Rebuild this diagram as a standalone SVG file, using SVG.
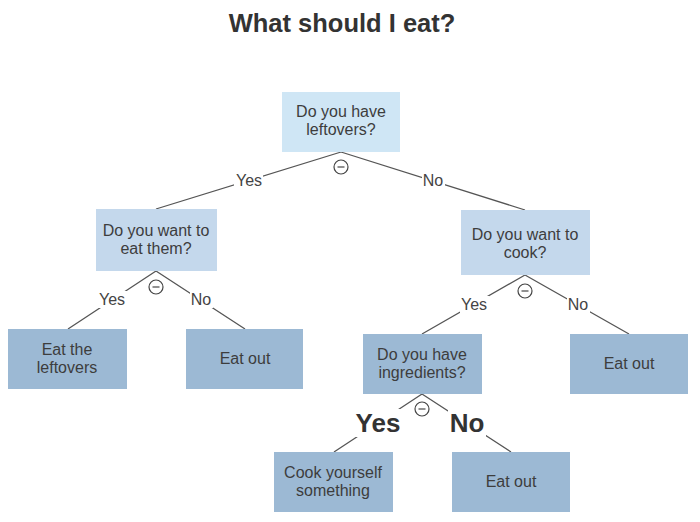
<svg xmlns="http://www.w3.org/2000/svg" width="700" height="522" viewBox="0 0 700 522">
<style>
text{font-family:"Liberation Sans",Arial,sans-serif;fill:#333}
.t{font-size:16px;text-anchor:middle;fill:#3d3d3d}
.l{font-size:16px;text-anchor:middle;fill:#444}
.b{font-size:26px;font-weight:bold;text-anchor:middle;fill:#333}
.e{stroke:#555;stroke-width:1.3;fill:none}
.c{stroke:#444;stroke-width:1.2;fill:#fff}
.bg{fill:#fff}
.n0{fill:#cfe6f5}
.n1{fill:#c4d8ec}
.n2{fill:#9cb9d4}
</style>
<rect width="700" height="522" fill="#fff"/>
<text x="342" y="32" font-size="25.5" font-weight="bold" text-anchor="middle" style="fill:#333">What should I eat?</text>
<g id="connectors">
<path class="e" d="M341,152 L156,209 M341,152 L525,210"/>
<path class="e" d="M156,271 L68,329 M156,271 L245,329"/>
<path class="e" d="M525,275 L422,334 M525,275 L629,334"/>
<path class="e" d="M422,394 L334,452 M422,394 L511,452"/>
<rect class="bg" x="234" y="172" width="29" height="17"/>
<rect class="bg" x="422" y="172" width="23" height="17"/>
<rect class="bg" x="98" y="291" width="29" height="17"/>
<rect class="bg" x="190" y="291" width="23" height="17"/>
<rect class="bg" x="460" y="296" width="29" height="17"/>
<rect class="bg" x="567" y="296" width="23" height="17"/>
<rect class="bg" x="354" y="409" width="48" height="28"/>
<rect class="bg" x="448" y="409" width="38" height="28"/>
<text class="l" x="249" y="186">Yes</text>
<text class="l" x="433" y="186">No</text>
<text class="l" x="112" y="305">Yes</text>
<text class="l" x="201" y="305">No</text>
<text class="l" x="474" y="310">Yes</text>
<text class="l" x="578" y="310">No</text>
<text class="b" x="378" y="432">Yes</text>
<text class="b" x="467" y="432">No</text>
<g id="collapse">
<circle class="c" cx="341" cy="167" r="7"/><path class="e" d="M337.5,167h7"/>
<circle class="c" cx="156" cy="287" r="7"/><path class="e" d="M152.5,287h7"/>
<circle class="c" cx="525" cy="291" r="7"/><path class="e" d="M521.5,291h7"/>
<circle class="c" cx="422" cy="409" r="7"/><path class="e" d="M418.5,409h7"/>
</g>
</g>
<g id="root"><rect class="n0" x="282" y="92" width="118" height="60"/><text class="t" x="341" y="117">Do you have</text><text class="t" x="341" y="135">leftovers?</text></g>
<g id="eatThem"><rect class="n1" x="96" y="209" width="121" height="62"/><text class="t" x="156" y="236">Do you want to</text><text class="t" x="156" y="254">eat them?</text></g>
<g id="cook"><rect class="n1" x="461" y="210" width="129" height="65"/><text class="t" x="525" y="240">Do you want to</text><text class="t" x="525" y="258">cook?</text></g>
<g id="leftovers"><rect class="n2" x="8" y="329" width="119" height="60"/><text class="t" x="67" y="355">Eat the</text><text class="t" x="67" y="373">leftovers</text></g>
<g id="eatOut1"><rect class="n2" x="186" y="329" width="117" height="60"/><text class="t" x="245" y="364">Eat out</text></g>
<g id="ingredients"><rect class="n2" x="363" y="334" width="119" height="60"/><text class="t" x="422" y="360">Do you have</text><text class="t" x="422" y="378">ingredients?</text></g>
<g id="eatOut2"><rect class="n2" x="570" y="334" width="118" height="60"/><text class="t" x="629" y="369">Eat out</text></g>
<g id="cookYourself"><rect class="n2" x="274" y="452" width="119" height="60"/><text class="t" x="333" y="478">Cook yourself</text><text class="t" x="333" y="496">something</text></g>
<g id="eatOut3"><rect class="n2" x="452" y="452" width="118" height="60"/><text class="t" x="511" y="487">Eat out</text></g>
</svg>
